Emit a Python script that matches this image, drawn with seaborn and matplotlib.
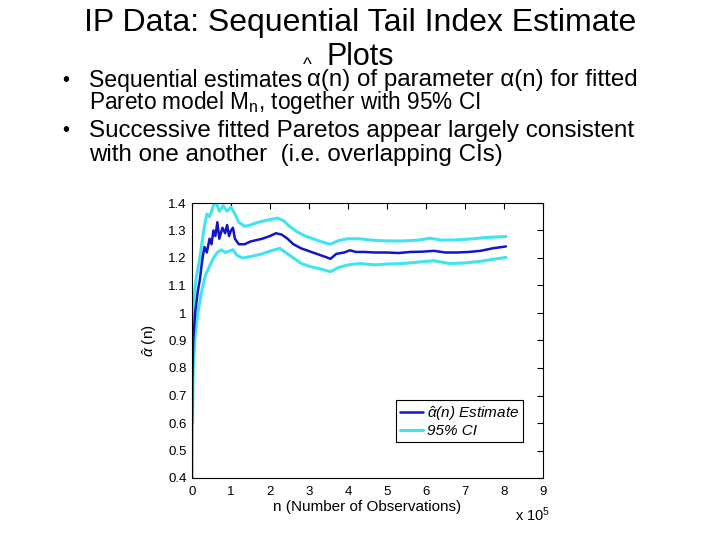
import matplotlib
matplotlib.use("Agg")
import matplotlib.pyplot as plt
import seaborn as sns
import pandas as pd
import numpy as np

# ---- data (n in units of 1e5 observations) ----
est_n = [0.002, 0.01, 0.03, 0.08, 0.15, 0.2, 0.27, 0.32, 0.38, 0.45, 0.5, 0.55, 0.6,
         0.65, 0.7, 0.78, 0.85, 0.9, 0.95, 1.0, 1.05, 1.1, 1.2, 1.35, 1.5, 1.65, 1.8,
         2.0, 2.15, 2.3, 2.45, 2.6, 2.8, 3.0, 3.2, 3.4, 3.55, 3.7, 3.9, 4.05, 4.2, 4.4,
         4.7, 5.0, 5.3, 5.6, 5.9, 6.2, 6.5, 6.8, 7.1, 7.4, 7.7, 8.05]
est_val = [0.60, 0.75, 0.90, 1.00, 1.08, 1.12, 1.20, 1.24, 1.22, 1.27, 1.25, 1.30, 1.28,
           1.33, 1.27, 1.31, 1.29, 1.32, 1.28, 1.30, 1.31, 1.27, 1.25, 1.25, 1.26, 1.265, 1.27,
           1.28, 1.29, 1.285, 1.27, 1.25, 1.235, 1.225, 1.215, 1.205, 1.197, 1.215, 1.22, 1.228,
           1.222, 1.222, 1.22, 1.22, 1.218, 1.222, 1.223, 1.226, 1.22, 1.22, 1.222, 1.226,
           1.235, 1.242]

up_n = [0.002, 0.01, 0.05, 0.1, 0.2, 0.3, 0.38, 0.45, 0.55, 0.6, 0.7, 0.8, 0.9, 1.0, 1.1,
        1.2, 1.35, 1.5, 1.7, 2.0, 2.2, 2.35, 2.5, 2.7, 2.9, 3.1, 3.3, 3.55, 3.75, 4.0, 4.3,
        4.6, 5.0, 5.4, 5.8, 6.1, 6.4, 6.8, 7.2, 7.6, 8.05]
up_val = [0.80, 0.92, 1.05, 1.12, 1.20, 1.30, 1.36, 1.35, 1.39, 1.41, 1.37, 1.39, 1.37,
          1.385, 1.36, 1.33, 1.315, 1.32, 1.33, 1.34, 1.345, 1.335, 1.315, 1.295, 1.28,
          1.27, 1.26, 1.25, 1.263, 1.27, 1.27, 1.265, 1.262, 1.262, 1.265, 1.272, 1.265,
          1.266, 1.27, 1.275, 1.278]

lo_n = [0.002, 0.01, 0.03, 0.08, 0.15, 0.25, 0.35, 0.45, 0.55, 0.65, 0.75, 0.85, 0.95,
        1.05, 1.15, 1.3, 1.5, 1.8, 2.0, 2.25, 2.4, 2.6, 2.8, 3.0, 3.3, 3.55, 3.75, 4.0,
        4.3, 4.7, 5.0, 5.4, 5.8, 6.2, 6.6, 7.0, 7.4, 7.7, 8.05]
lo_val = [0.38, 0.55, 0.80, 0.92, 1.00, 1.08, 1.14, 1.17, 1.20, 1.22, 1.23, 1.22, 1.225,
          1.23, 1.21, 1.20, 1.205, 1.215, 1.225, 1.235, 1.22, 1.20, 1.18, 1.17, 1.16, 1.15,
          1.165, 1.175, 1.18, 1.175, 1.178, 1.18, 1.185, 1.19, 1.18, 1.182, 1.188, 1.195,
          1.202]

x_ticks = [0, 1, 2, 3, 4, 5, 6, 7, 8, 9]
y_ticks = [0.4, 0.5, 0.6, 0.7, 0.8, 0.9, 1, 1.1, 1.2, 1.3, 1.4]
y_tick_labels = ["0.4", "0.5", "0.6", "0.7", "0.8", "0.9", "1", "1.1", "1.2", "1.3", "1.4"]
SCALE = 1e5

est_df = pd.DataFrame({"n": np.array(est_n) * SCALE, "alpha": est_val})
up_df = pd.DataFrame({"n": np.array(up_n) * SCALE, "alpha": up_val})
lo_df = pd.DataFrame({"n": np.array(lo_n) * SCALE, "alpha": lo_val})

sns.set_style("white")
plt.rcParams["font.family"] = ["Liberation Sans", "DejaVu Sans"]
plt.rcParams["mathtext.fontset"] = "custom"
plt.rcParams["mathtext.rm"] = "Liberation Sans"
plt.rcParams["mathtext.it"] = "Liberation Sans:italic"
plt.rcParams["text.color"] = "black"
plt.rcParams["axes.labelcolor"] = "black"
plt.rcParams["xtick.color"] = "black"
plt.rcParams["ytick.color"] = "black"

fig = plt.figure(figsize=(7.2, 5.4), dpi=100)
ax = fig.add_axes([192 / 720, 1 - 478 / 540, 351 / 720, 275 / 540])

CI_COL = "#3fe4ee"
EST_COL = "#1414c8"
sns.lineplot(data=up_df, x="n", y="alpha", ax=ax, color=CI_COL, lw=2.2, label="95% CI")
sns.lineplot(data=lo_df, x="n", y="alpha", ax=ax, color=CI_COL, lw=2.2, legend=False)
sns.lineplot(data=est_df, x="n", y="alpha", ax=ax, color=EST_COL, lw=1.8,
             label=r"$\hat{\alpha}$(n) Estimate")

ax.set_xlim(0, 9 * SCALE)
ax.set_ylim(0.4, 1.4)
ax.set_xticks([t * SCALE for t in x_ticks])
ax.set_xticklabels([str(t) for t in x_ticks])
ax.set_yticks(y_ticks)
ax.set_yticklabels(y_tick_labels)
ax.tick_params(direction="in", length=4, width=0.8, top=True, right=True,
               labelsize=9.5, colors="black", pad=4)
ax.tick_params(axis="x", pad=6)
for s in ax.spines.values():
    s.set_color("black")
    s.set_linewidth(0.8)
ax.set_xlabel("n (Number of Observations)", fontsize=11, labelpad=1)
ax.set_ylabel(r"$\hat{\alpha}$ (n)", fontsize=11, labelpad=6)
ax.text(1.02, -0.098, r"x 10$^{5}$", transform=ax.transAxes, fontsize=10.5,
        ha="right", va="top")

handles, labels = ax.get_legend_handles_labels()
order = [1, 0]
leg = ax.legend([handles[i] for i in order], [labels[i] for i in order],
                loc="lower right", bbox_to_anchor=(0.943, 0.131),
                prop={"style": "italic", "size": 11}, frameon=True, fancybox=False,
                edgecolor="black", framealpha=1, handlelength=1.5, handletextpad=0.25,
                borderpad=0.25, labelspacing=0.1, borderaxespad=0)
leg.get_frame().set_linewidth(0.8)

# ---- slide text ----
fig.text(0.5, 1 - 23 / 540, "IP Data: Sequential Tail Index Estimate",
         fontsize=23, ha="center", va="center")
fig.text(0.5, 1 - 57 / 540, "Plots", fontsize=22, ha="center", va="center")

fs = 17.4
fig.canvas.draw()
r = fig.canvas.get_renderer()
y1 = 1 - 80 / 540
fig.text(62 / 720, y1, "\u2022", fontsize=fs - 3, va="center")
t1 = fig.text(89 / 720, y1, "Sequential estimates", fontsize=fs - 0.8, va="center")
bb = t1.get_window_extent(r)
fig.text(bb.x1 / 720 + 0.001, y1 + 0.026, "^", fontsize=fs - 4, va="center")
fig.text(bb.x1 / 720 + 0.007, y1, "\u03b1(n) of parameter \u03b1(n) for fitted",
         fontsize=fs, va="center")
fig.text(89 / 720, 1 - 103 / 540,
         r"Pareto model M$_{\mathregular{n}}$, together with 95% CI",
         fontsize=16.3, va="center")
fig.text(62 / 720, 1 - 131 / 540, "\u2022", fontsize=fs - 3, va="center")
fig.text(89 / 720, 1 - 131 / 540, "Successive fitted Paretos appear largely consistent",
         fontsize=fs, va="center")
fig.text(89 / 720, 1 - 155 / 540, "with one another  (i.e. overlapping CIs)",
         fontsize=fs, va="center")

fig.savefig("out.png", dpi=100)
